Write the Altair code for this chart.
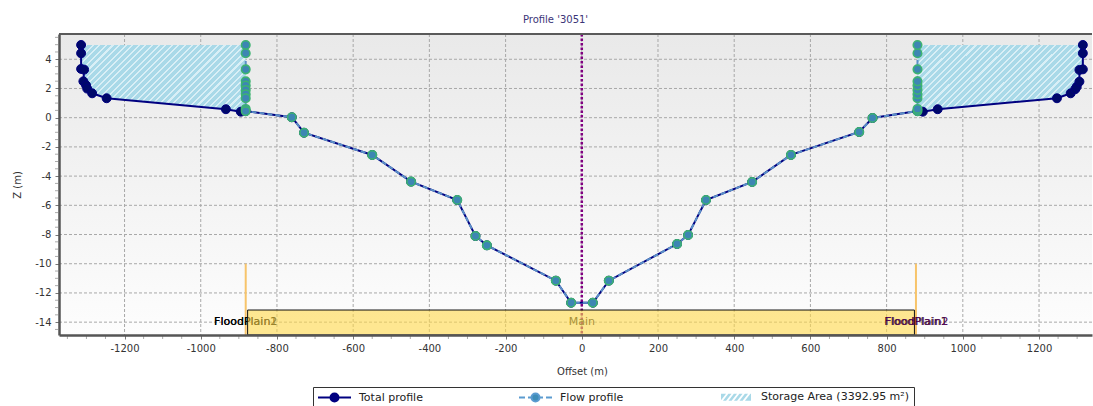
import altair as alt
import pandas as pd

FONT = "DejaVu Sans"
W, H = 1033, 301
X_DOM = [-1372, 1339]
Y_DOM = [-14.88, 5.73]

# ---------------- data ----------------
# Total profile, left bank (offset m, z m)
tot_left_x = [-1314, -1314, -1314, -1306, -1308, -1301, -1298, -1285, -1247, -934, -895, -882]
tot_left_z = [4.98, 4.41, 3.34, 3.29, 2.49, 2.22, 1.99, 1.67, 1.33, 0.58, 0.41, 0.45]
# channel points (shared by total and flow profile)
chan_x = [-761, -729, -550, -448, -327, -279, -249, -68, -28, 29, 71, 250, 279, 326, 447, 549, 728, 763]
chan_z = [0.03, -1.03, -2.55, -4.38, -5.64, -8.10, -8.74, -11.16, -12.67, -12.67, -11.16, -8.65, -8.03,
          -5.64, -4.40, -2.55, -0.98, -0.02]
# Total profile, right bank
tot_right_x = [881, 895, 934, 1247, 1283, 1295, 1299, 1306, 1306, 1315, 1315, 1315]
tot_right_z = [0.45, 0.41, 0.58, 1.33, 1.67, 1.95, 2.12, 2.47, 3.27, 3.31, 4.41, 4.98]
# Flow profile walls
wall_left_x = -882
wall_right_x = 881
wall_z = [4.98, 4.41, 3.31, 2.49, 2.2, 1.9, 1.6, 1.33, 0.6, 0.45]

# storage areas (profile x at each level, bounded by the wall)
stor_left_z = [4.98, 4.41, 3.34, 3.29, 2.49, 2.22, 1.99, 1.67, 1.33, 0.58, 0.45]
stor_left_x = [-1314, -1314, -1314, -1306, -1308, -1301, -1298, -1285, -1247, -934, -882]
stor_right_z = [4.98, 4.41, 3.31, 3.27, 2.47, 2.12, 1.95, 1.67, 1.33, 0.58, 0.45]
stor_right_x = [1315, 1315, 1315, 1306, 1306, 1299, 1295, 1283, 1247, 934, 881]

# sections
main_x = [-877, 873]
main_top = -13.17
bank_x = [-882, 877]
bank_top = -10
label_z = -14.0

x_grid = [-1200, -1000, -800, -600, -400, -200, 0, 200, 400, 600, 800, 1000, 1200]
y_grid = [-14, -12, -10, -8, -6, -4, -2, 0, 2, 4]
x_minor = [v for v in range(-1350, 1351, 50) if v % 200 != 0]
y_minor = [v / 2 for v in range(-29, 12) if v % 4 != 0]

SERIES = ["Total profile", "Flow profile", "Storage Area (3392.95 m²)"]

# ---------------- tables ----------------
total_x = tot_left_x + chan_x + tot_right_x
total_z = tot_left_z + chan_z + tot_right_z
total = pd.DataFrame({"x": total_x, "z": total_z, "i": range(len(total_x))})
flow_x = [wall_left_x] * len(wall_z) + chan_x + [wall_right_x] * len(wall_z)
flow_z = wall_z + chan_z + wall_z[::-1]
flow = pd.DataFrame({"x": flow_x, "z": flow_z, "i": range(len(flow_x))})

stor = pd.DataFrame({
    "x": stor_left_x + stor_right_x,
    "x2": [wall_left_x] * len(stor_left_x) + [wall_right_x] * len(stor_right_x),
    "z": stor_left_z + stor_right_z,
    "side": ["L"] * len(stor_left_x) + ["R"] * len(stor_right_x),
})

pxm = W / (X_DOM[1] - X_DOM[0])
pzm = H / (Y_DOM[1] - Y_DOM[0])
bw = (max(stor_left_x) - min(stor_left_x)) * pxm
bh = (max(stor_left_z) - min(stor_left_z)) * pzm
k = (bw + bh) * bw / (bw * bw + bh * bh)
period = 6.5
n = int((bw + bh) / period)
stops = []
for j in range(n):
    t0 = j / n
    t1 = (j + 0.68) / n
    t2 = (j + 1) / n
    stops += [{"offset": t0, "color": "#a9d9e8"}, {"offset": t1, "color": "#a9d9e8"},
              {"offset": t1, "color": "#d9eff6"}, {"offset": t2, "color": "#d9eff6"}]
hatch = {"gradient": "linear", "x1": 0, "y1": 0, "x2": k, "y2": k * bh / bw, "stops": stops}

bg_grad = {"gradient": "linear", "x1": 0, "y1": 0, "x2": 0, "y2": 1,
           "stops": [{"offset": 0, "color": "#e9e9e9"}, {"offset": 1, "color": "#fdfdfd"}]}

one = pd.DataFrame({"a": [0]})
xs = alt.Scale(domain=X_DOM, nice=False, zero=False)
ys = alt.Scale(domain=Y_DOM, nice=False, zero=False)

x_axis = alt.Axis(
    values=x_grid, tickCount=100, grid=False, title="Offset (m)", titleFont=FONT, titleFontSize=10,
    titleFontWeight="normal", titleColor="#333", titlePadding=13, titleX=523, titleAnchor="middle",
    labelExpr="'' + datum.value", labelOverlap=False,
    labelFont=FONT, labelFontSize=10, labelColor="#333", labelPadding=4,
    tickSize=4, tickColor="#777", domainColor="#555", domainWidth=2.5, zindex=1,
)
y_axis = alt.Axis(
    values=y_grid, tickCount=100, grid=False, title="Z (m)", titleFont=FONT, titleFontSize=10,
    titleFontWeight="normal", titleColor="#333", titlePadding=12,
    labelExpr="'' + datum.value", labelOverlap=False,
    labelFont=FONT, labelFontSize=10, labelColor="#333", labelPadding=4,
    tickSize=4, tickColor="#777", domainColor="#555", domainWidth=2.5, zindex=1,
)

bg = alt.Chart(one).mark_rect(color=bg_grad).encode(
    x=alt.value(0), x2=alt.value(W), y=alt.value(0), y2=alt.value(H))

gx = alt.Chart(pd.DataFrame({"x": x_grid})).mark_rule(
    color="#a8a8a8", strokeDash=[3, 2], strokeWidth=1).encode(
    x=alt.X("x:Q", scale=xs, axis=x_axis))
gy = alt.Chart(pd.DataFrame({"z": y_grid})).mark_rule(
    color="#a8a8a8", strokeDash=[3, 2], strokeWidth=1).encode(
    y=alt.Y("z:Q", scale=ys, axis=y_axis))

# minor ticks just outside the axes
mx = alt.Chart(pd.DataFrame({"x": x_minor})).mark_tick(
    orient="vertical", size=3, thickness=1, color="#888", clip=False).encode(
    x=alt.X("x:Q", scale=xs), y=alt.value(H + 2.5))
my = alt.Chart(pd.DataFrame({"z": y_minor})).mark_tick(
    orient="horizontal", size=3, thickness=1, color="#888", clip=False).encode(
    y=alt.Y("z:Q", scale=ys), x=alt.value(-2.5))

area = alt.Chart(stor).mark_area(orient="horizontal", color=hatch, clip=True).encode(
    x=alt.X("x:Q", scale=xs), x2="x2:Q", y=alt.Y("z:Q", scale=ys), detail="side:N")

bank = alt.Chart(pd.DataFrame({"x": bank_x, "z": [bank_top] * 2, "z2": [Y_DOM[0]] * 2})).mark_rule(
    color="#f7c46a", strokeWidth=2).encode(x=alt.X("x:Q", scale=xs), y=alt.Y("z:Q", scale=ys), y2="z2:Q")

centre = alt.Chart(pd.DataFrame({"x": [0]})).mark_rule(
    color="#800080", strokeWidth=2.5, strokeDash=[2.5, 2]).encode(x=alt.X("x:Q", scale=xs))

lab_under = alt.Chart(pd.DataFrame({
    "x": [bank_x[0], bank_x[0], 0], "z": [label_z] * 3,
    "t": ["FloodPlain1", "FloodPlain2", "Main"], "c": ["#000", "#000", "#222"]})).mark_text(
    font=FONT, fontSize=11, baseline="middle", align="center").encode(
    x=alt.X("x:Q", scale=xs), y=alt.Y("z:Q", scale=ys), text="t:N", color=alt.Color("c:N", scale=None))

main_rect = alt.Chart(pd.DataFrame({"x": [main_x[0]], "x2": [main_x[1]], "z": [main_top], "z2": [Y_DOM[0]]})).mark_rect(
    fill="#ffd84a", fillOpacity=0.6, stroke="#111", strokeWidth=1).encode(
    x=alt.X("x:Q", scale=xs), x2="x2:Q", y=alt.Y("z:Q", scale=ys), y2="z2:Q")

lab_over1 = alt.Chart(pd.DataFrame({"x": [bank_x[1]], "z": [label_z], "t": ["FloodPlain1"]})).mark_text(
    font=FONT, fontSize=11, baseline="middle", align="center", color="#1a0010").encode(
    x=alt.X("x:Q", scale=xs), y=alt.Y("z:Q", scale=ys), text="t:N")
lab_over2 = alt.Chart(pd.DataFrame({"x": [bank_x[1]], "z": [label_z], "t": ["FloodPlain2"]})).mark_text(
    font=FONT, fontSize=11, baseline="middle", align="center", color="#5a0a5a", dx=1).encode(
    x=alt.X("x:Q", scale=xs), y=alt.Y("z:Q", scale=ys), text="t:N")

# legend symbols (custom paths, 5 px per unit at symbolSize 100)
P_TOT = "M-1,0L5.6,0M1.5,0A0.8,0.8,0,1,0,3.1,0A0.8,0.8,0,1,0,1.5,0Z"
P_FLOW = ("M-1,0L0.2,0M0.8,0L1.4,0M3.2,0L3.8,0M4.4,0L5.6,0"
          "M1.5,0A0.8,0.8,0,1,0,3.1,0A0.8,0.8,0,1,0,1.5,0Z")
P_STOR = ("M-1,-0.9L5.4,-0.9L5.4,0.9L-1,0.9Z"
          "M-0.8,0.9L0.6,-0.9M0.3,0.9L1.7,-0.9M1.4,0.9L2.8,-0.9M2.5,0.9L3.9,-0.9M3.6,0.9L5.0,-0.9")

legend = alt.Legend(
    orient="none", legendX=254, legendY=353, direction="horizontal", columns=3, title=None,
    labelFont=FONT, labelFontSize=11, labelColor="#222", labelLimit=400,
    symbolSize=100, labelOffset=30, columnPadding=92,
    strokeColor="#333", fillColor="white", padding=4, symbolOpacity=1,
)
leg_df = pd.DataFrame({"x": [0, 0, 0], "z": [0, 0, 0], "series": SERIES})
leg_layer = alt.Chart(leg_df).transform_filter("datum.x > 100000").mark_point(opacity=1).encode(
    x=alt.X("x:Q", scale=xs), y=alt.Y("z:Q", scale=ys),
    fill=alt.Fill("series:N", scale=alt.Scale(domain=SERIES, range=["#000080", "#3f8db8", "#a9d9e8"]),
                  legend=legend),
    stroke=alt.Stroke("series:N", scale=alt.Scale(domain=SERIES, range=["#000080", "#5b9bd0", "#ffffff"]),
                      legend=legend),
    shape=alt.Shape("series:N", scale=alt.Scale(domain=SERIES, range=[P_TOT, P_FLOW, P_STOR]),
                    legend=legend),
    strokeWidth=alt.StrokeWidth("series:N", scale=alt.Scale(domain=SERIES, range=[2, 2, 1.3]),
                                legend=legend),
)

tot_line = alt.Chart(total).mark_line(strokeWidth=2, color="#000080").encode(
    x=alt.X("x:Q", scale=xs), y=alt.Y("z:Q", scale=ys), order="i:Q")
flow_line = alt.Chart(flow).mark_line(strokeWidth=2, color="#5b8fc8", strokeDash=[5, 3]).encode(
    x=alt.X("x:Q", scale=xs), y=alt.Y("z:Q", scale=ys), order="i:Q")
tot_pts = alt.Chart(total).mark_point(filled=True, size=80, fill="#00086a", stroke="#000080",
                                      strokeWidth=1, opacity=1).encode(
    x=alt.X("x:Q", scale=xs), y=alt.Y("z:Q", scale=ys))
flow_pts = alt.Chart(flow).mark_point(filled=True, size=72, fill="#3d86b3", stroke="#3cb371",
                                      strokeWidth=1.6, opacity=1).encode(
    x=alt.X("x:Q", scale=xs), y=alt.Y("z:Q", scale=ys))

top_border = alt.Chart(one).mark_rule(color="#5a5a5a", strokeWidth=2).encode(
    x=alt.value(0), x2=alt.value(W), y=alt.value(0))

chart = alt.layer(
    bg, gx, gy, mx, my, area, bank, centre, lab_under, main_rect, lab_over1, lab_over2,
    tot_line, flow_line, tot_pts, flow_pts, top_border, leg_layer,
).properties(
    width=W, height=H,
    title=alt.TitleParams("Profile '3051'", font=FONT, fontSize=10, fontWeight="normal",
                          color="#3b3578", offset=8, dx=-20),
    autosize=alt.AutoSizeParams(type="none"),
    padding={"left": 59, "top": 34, "right": 1, "bottom": 71},
).configure_view(stroke=None).configure_axis(labelOverlap=False)

chart.save("out.html", embed_options={"renderer": "svg", "actions": False})
